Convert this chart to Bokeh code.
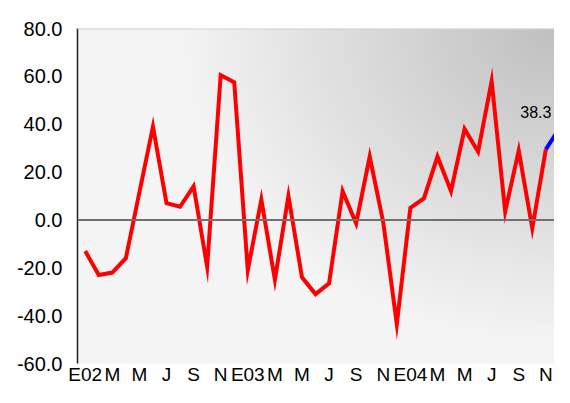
import numpy as np
from bokeh.plotting import figure
from bokeh.models import Range1d, FixedTicker, NumeralTickFormatter, Span, ColumnDataSource
from bokeh.core.properties import value
from bokeh.embed import file_html
from bokeh.resources import INLINE

# ---- data ----
months = ["E02", "F", "M", "A", "M", "J", "J", "A", "S", "O", "N", "D",
          "E03", "F", "M", "A", "M", "J", "J", "A", "S", "O", "N", "D",
          "E04", "F", "M", "A", "M", "J", "J", "A", "S", "O", "N", "D"]
red_values = [-13.0, -23.0, -22.0, -16.0, 11.5, 39.0, 7.0, 5.5, 14.0, -19.5, 60.5, 57.5,
              -21.0, 8.5, -25.0, 10.0, -24.0, -31.0, -26.5, 12.0, -1.5, 26.5, -1.0, -43.5,
              5.0, 9.0, 26.5, 12.0, 38.0, 28.5, 58.0, 3.5, 29.0, -3.5, 29.5, None]
blue_values = [None] * 34 + [29.5, 38.3]
blue_label = ["38.3"]
y_ticks = [-60, -40, -20, 0, 20, 40, 60, 80]

idx = list(range(len(months)))
red = [np.nan if v is None else v for v in red_values]
blue = [np.nan if v is None else v for v in blue_values]
tick_idx = idx[::2]
tick_labels = {i: months[i] for i in tick_idx}

FONT = "Liberation Sans"
X0, X1 = -0.57, 34.64

p = figure(width=554, height=387, output_backend="svg", toolbar_location=None,
           x_range=Range1d(X0, X1), y_range=Range1d(-60, 80),
           min_border_left=77, min_border_right=0, min_border_top=28, min_border_bottom=23)
p.outline_line_color = None
p.background_fill_color = "#f4f4f4"
p.border_fill_color = "white"
p.grid.visible = False

# gradient background (darker towards upper right)
nx, ny = 300, 200
gx, gy = np.meshgrid(np.linspace(0, 1, nx), np.linspace(0, 1, ny))
d = np.sqrt(((1 - gx) / 0.78) ** 2 + ((1 - gy) / 0.93) ** 2)
g = (192 + 52 * np.clip(d, 0, 1)).astype(np.uint8)
img = np.empty((ny, nx), dtype=np.uint32)
view = img.view(dtype=np.uint8).reshape((ny, nx, 4))
view[..., 0] = g
view[..., 1] = g
view[..., 2] = g
view[..., 3] = 255
p.image_rgba(image=[img], x=X0, y=-60, dw=X1 - X0, dh=140, level="image")

p.add_layout(Span(location=0, dimension="width", line_color="#707070", line_width=2))
p.add_layout(Span(location=80, dimension="width", line_color="#d4d4d4", line_width=2))

p.line(idx, red, line_color="#ff0000", line_width=4, line_join="miter")
p.line(idx, blue, line_color="#0000ff", line_width=4, line_join="miter")

src = ColumnDataSource(dict(x=[idx[-1]], y=[blue[-1]], t=blue_label))
p.text(x="x", y="y", text="t", source=src, x_offset=-8, y_offset=-16,
       text_align="right", text_baseline="alphabetic",
       text_font=value(FONT), text_font_size="16px", text_color="#000000")

# axes
for ax in (p.xaxis, p.yaxis):
    ax.major_tick_line_color = None
    ax.minor_tick_line_color = None
    ax.major_tick_out = 0
    ax.major_tick_in = 0
    ax.minor_tick_out = 0
    ax.minor_tick_in = 0
    ax.major_label_text_font = FONT
    ax.major_label_text_color = "#000000"

p.yaxis.ticker = FixedTicker(ticks=y_ticks)
p.yaxis.formatter = NumeralTickFormatter(format="0.0")
p.yaxis.axis_line_color = "#202020"
p.yaxis.axis_line_width = 1.5
p.yaxis.major_label_standoff = 15
p.yaxis.major_label_text_font_size = "20px"

p.xaxis.ticker = FixedTicker(ticks=tick_idx)
p.xaxis.major_label_overrides = tick_labels
p.xaxis.axis_line_color = None
p.xaxis.major_label_standoff = 0
p.xaxis.major_label_text_font_size = "19px"

open("out.html", "w").write(file_html(p, INLINE))
